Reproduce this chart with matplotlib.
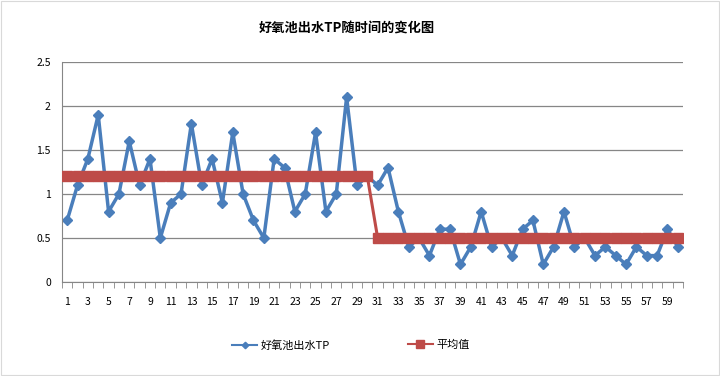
import matplotlib
matplotlib.use("Agg")
import matplotlib.pyplot as plt
from matplotlib.patches import Rectangle

plt.rcParams["font.family"] = ["Noto Sans CJK SC", "DejaVu Sans"]

days = list(range(1, 61))
tp_values = [
    0.7, 1.1, 1.4, 1.9, 0.8, 1.0, 1.6, 1.1, 1.4, 0.5,
    0.9, 1.0, 1.8, 1.1, 1.4, 0.9, 1.7, 1.0, 0.7, 0.5,
    1.4, 1.3, 0.8, 1.0, 1.7, 0.8, 1.0, 2.1, 1.1, 1.2,
    1.1, 1.3, 0.8, 0.4, 0.5, 0.3, 0.6, 0.6, 0.2, 0.4,
    0.8, 0.4, 0.5, 0.3, 0.6, 0.7, 0.2, 0.4, 0.8, 0.4,
    0.5, 0.3, 0.4, 0.3, 0.2, 0.4, 0.3, 0.3, 0.6, 0.4,
]
mean_values = [1.2] * 30 + [0.5] * 30
x_labels = [str(d) for d in range(1, 60, 2)]

title = "好氧池出水TP随时间的变化图"
tp_label = "好氧池出水TP"
mean_label = "平均值"

fig = plt.figure(figsize=(7.2, 3.76), dpi=100)
ax = fig.add_axes([0.0861, 0.25, 0.8625, 0.585])

ax.plot(days, mean_values, color="#be4b48", linewidth=2.2, marker="s",
        markersize=7.5, label=mean_label, zorder=3)
ax.plot(days, tp_values, color="#4a7ebb", linewidth=2.5, marker="D",
        markersize=5.5, label=tp_label, zorder=2)

ax.set_xlim(0.5, 60.5)
ax.set_ylim(0, 2.5)
ax.set_yticks([0, 0.5, 1, 1.5, 2, 2.5])
ax.set_yticklabels(["0", "0.5", "1", "1.5", "2", "2.5"])
ax.set_xticks(range(1, 60, 2))
ax.set_xticklabels(x_labels)
ax.set_xticks([i + 0.5 for i in range(0, 61)], minor=True)
ax.tick_params(axis="x", which="major", length=0, labelsize=7.5, pad=11)
ax.tick_params(axis="x", which="minor", length=4, color="#868686", direction="out")
ax.tick_params(axis="y", length=0, labelsize=7.5, pad=8)

ax.grid(axis="y", color="#868686", linewidth=0.9)
ax.set_axisbelow(True)
for side in ("top", "right"):
    ax.spines[side].set_visible(False)
ax.spines["left"].set_color("#868686")
ax.spines["bottom"].set_color("#868686")

fig.suptitle(title, x=0.481, y=0.945, fontsize=9.5, fontweight="bold")

# legend: two separate entries placed like the Excel legend
handles, labels = ax.get_legend_handles_labels()
leg_tp = fig.legend([handles[1]], [labels[1]], loc="center left",
                    bbox_to_anchor=(0.322, 0.082), frameon=False, fontsize=8,
                    handlelength=2.3, handletextpad=0.3, borderpad=0,
                    borderaxespad=0, markerscale=0.6)
for line in leg_tp.get_lines():
    line.set_linewidth(1.5)
leg_mean = fig.legend([handles[0]], [labels[0]], loc="center left",
                      bbox_to_anchor=(0.566, 0.082), frameon=False, fontsize=8,
                      handlelength=2.3, handletextpad=0.3, borderpad=0,
                      borderaxespad=0, markerscale=0.8)
for line in leg_mean.get_lines():
    line.set_linewidth(1.5)

fig.patches.append(Rectangle((0.001, 0.003), 0.997, 0.994, transform=fig.transFigure,
                             fill=False, edgecolor="#d9d9d9", linewidth=0.8))

fig.savefig("out.png", dpi=100)
